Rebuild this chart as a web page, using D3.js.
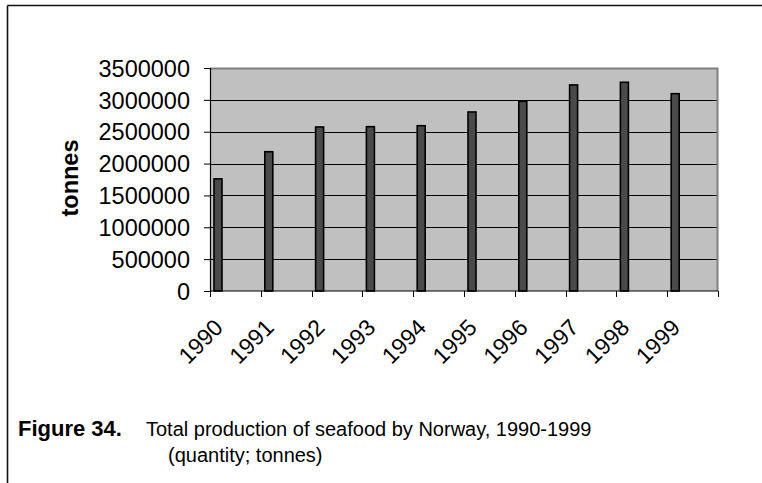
<!DOCTYPE html>
<html>
<head>
<meta charset="utf-8">
<script src="https://cdn.jsdelivr.net/npm/d3@7"></script>
<style>
  html, body { margin: 0; padding: 0; background: #fff; }
  svg { display: block; font-family: "Liberation Sans", Arial, sans-serif; }
</style>
</head>
<body>
<svg id="chart" width="762" height="483"></svg>
<script>
// Total production of seafood by Norway (tonnes)
const years = ["1990", "1991", "1992", "1993", "1994", "1995", "1996", "1997", "1998", "1999"];
const production = [1760000, 2186000, 2574000, 2579000, 2594000, 2810000, 2977000, 3234000, 3276000, 3097000];
const yTicks = [0, 500000, 1000000, 1500000, 2000000, 2500000, 3000000, 3500000];

const svg = d3.select("#chart");

// outer frame (top and left rules)
svg.append("line").attr("x1", 7.5).attr("y1", 5.5).attr("x2", 762).attr("y2", 5.5)
  .attr("stroke", "#111").attr("stroke-width", 1.6);
svg.append("line").attr("x1", 7.5).attr("y1", 5.5).attr("x2", 7.5).attr("y2", 483)
  .attr("stroke", "#111").attr("stroke-width", 1.6);

const plot = { left: 210, right: 718, top: 68, bottom: 291 };

const x = d3.scaleBand().domain(years).range([plot.left, plot.right]).paddingInner(0).paddingOuter(0);
const y = d3.scaleLinear().domain([0, 3500000]).range([plot.bottom, plot.top]);

// plot area background
svg.append("rect")
  .attr("x", plot.left).attr("y", plot.top)
  .attr("width", plot.right - plot.left).attr("height", plot.bottom - plot.top)
  .attr("fill", "#c0c0c0");

// gridlines
svg.append("g").selectAll("line").data(yTicks.filter(d => d > 0 && d < 3500000)).join("line")
  .attr("x1", plot.left).attr("x2", plot.right)
  .attr("y1", d => Math.round(y(d)) + 0.5).attr("y2", d => Math.round(y(d)) + 0.5)
  .attr("stroke", "#000").attr("stroke-width", 1);

// plot area border (top and right)
svg.append("path")
  .attr("d", `M${plot.left},${plot.top + 0.5}H${plot.right - 0.5}V${plot.bottom}`)
  .attr("fill", "none").attr("stroke", "#808080").attr("stroke-width", 2);

// bars
const barOffset = 4, barWidth = 8;
svg.append("g").selectAll("rect").data(years).join("rect")
  .attr("x", (d) => x(d) + barOffset)
  .attr("y", (d, i) => y(production[i]))
  .attr("width", barWidth)
  .attr("height", (d, i) => y(0) - y(production[i]))
  .attr("fill", "#4a4a4a")
  .attr("stroke", "#000")
  .attr("stroke-width", 1.6);

// y axis
const yAxis = d3.axisLeft(y).tickValues(yTicks).tickFormat(d3.format("d")).tickSize(6).tickPadding(14);
const gy = svg.append("g").attr("transform", `translate(${plot.left},0)`).call(yAxis);
gy.select(".domain").attr("stroke", "#000").attr("stroke-width", 1.2);
gy.selectAll(".tick line").attr("stroke", "#000");
gy.selectAll(".tick text")
  .attr("font-size", 23.5).attr("fill", "#000").attr("font-family", "Liberation Sans, Arial, sans-serif")
  .attr("dy", "0.35em");

// x axis with ticks on the category boundaries
const xBoundaries = d3.range(years.length + 1).map(i => plot.left + i * x.bandwidth());
const gx = svg.append("g");
gx.append("line").attr("x1", plot.left).attr("x2", plot.right)
  .attr("y1", plot.bottom).attr("y2", plot.bottom).attr("stroke", "#000").attr("stroke-width", 1.2);
gx.selectAll("line.tick").data(xBoundaries).join("line").attr("class", "tick")
  .attr("x1", d => Math.round(d) + 0.5).attr("x2", d => Math.round(d) + 0.5)
  .attr("y1", plot.bottom).attr("y2", plot.bottom + 6)
  .attr("stroke", "#000");
gx.selectAll("text").data(years).join("text")
  .attr("transform", d => `translate(${x(d) + x.bandwidth() / 2 - 11},329) rotate(-45)`)
  .attr("text-anchor", "end")
  .attr("font-size", 23)
  .attr("fill", "#000")
  .text(d => d);

// y axis title
svg.append("text")
  .attr("transform", "translate(78,178) rotate(-90)")
  .attr("text-anchor", "middle")
  .attr("font-size", 23.5).attr("font-weight", "bold").attr("fill", "#000")
  .text("tonnes");

// caption
svg.append("text").attr("x", 18).attr("y", 436).attr("font-size", 22)
  .attr("font-weight", "bold").attr("fill", "#000").text("Figure 34.");
svg.append("text").attr("x", 146).attr("y", 436).attr("font-size", 20).attr("fill", "#000")
  .text("Total production of seafood by Norway, 1990-1999");
svg.append("text").attr("x", 168).attr("y", 462).attr("font-size", 20).attr("fill", "#000")
  .text("(quantity; tonnes)");
</script>
</body>
</html>
